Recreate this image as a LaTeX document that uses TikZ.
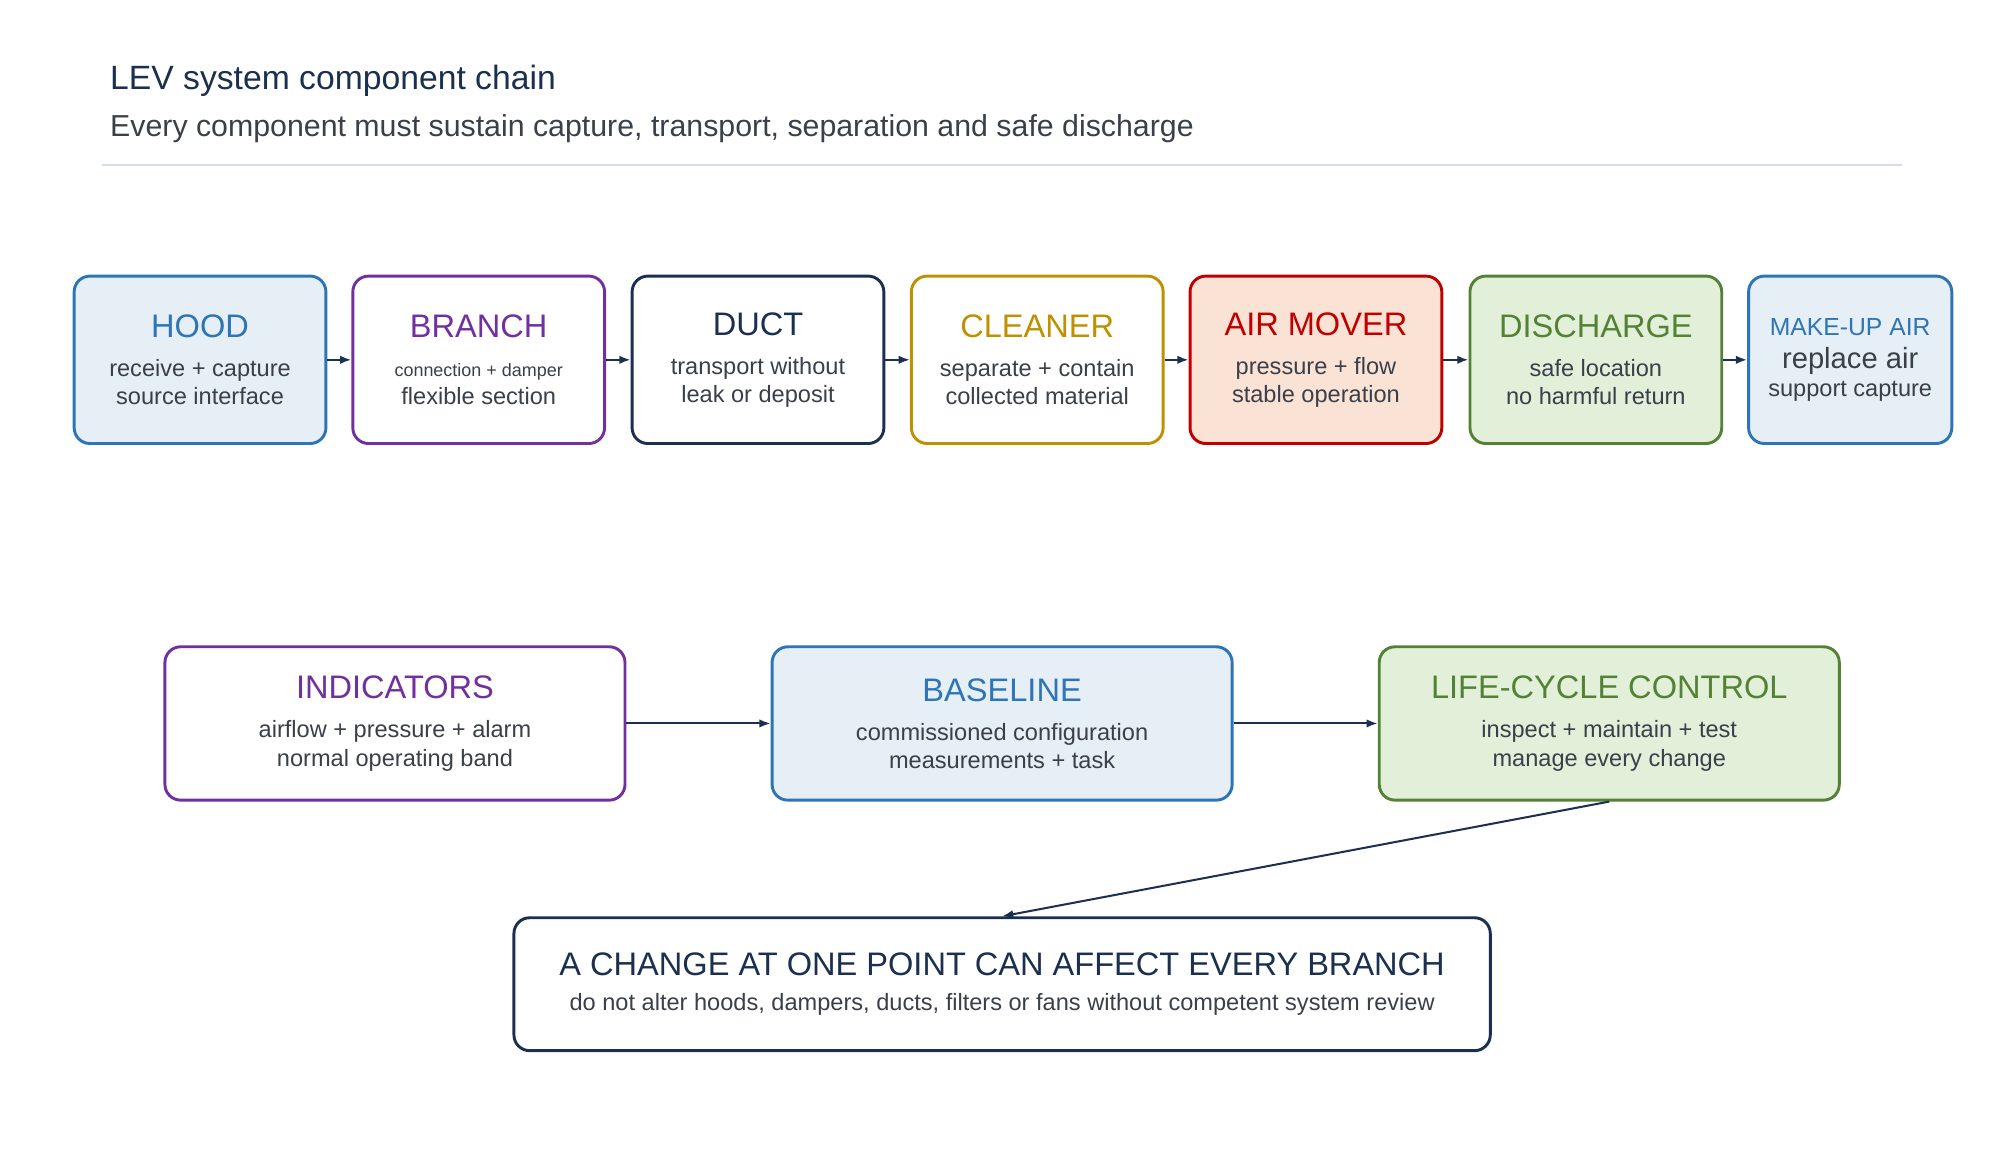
\documentclass[tikz,border=0pt]{standalone}
\usepackage{fontspec}
\setmainfont{Liberation Sans}
\usetikzlibrary{arrows.meta, positioning}
\definecolor{navy}{HTML}{1B2F50}
\definecolor{hblue}{HTML}{2E75B6}
\definecolor{hbluefill}{HTML}{E6EEF6}
\definecolor{hpurple}{HTML}{7030A0}
\definecolor{hgold}{HTML}{BF9000}
\definecolor{hred}{HTML}{C00000}
\definecolor{hredfill}{HTML}{FAE3D5}
\definecolor{hgreen}{HTML}{548235}
\definecolor{hgreenfill}{HTML}{E2EFD9}
\definecolor{bodytext}{HTML}{3A3F4A}
\definecolor{rulecol}{HTML}{D4DCF2}

\begin{document}
\begin{tikzpicture}[x=0.02cm, y=-0.02cm]
    % Stili
    \tikzset{
        comp/.style={
            rectangle,
            draw=#1,
            line width=1.3pt,
            rounded corners=7pt,
            minimum width=3.94cm,
            minimum height=2.62cm,
            align=center,
            font=\fontsize{10.5}{12.5}\selectfont\color{bodytext}
        },
        stage/.style={comp=#1, minimum width=7.2cm, minimum height=2.4cm},
        link/.style={-{Latex[length=5pt]}, line width=0.9pt, draw=navy}
    }
    \useasboundingbox (0,0) rectangle (1560,908);

    % Titolo
    \node[anchor=west, font=\fontsize{15}{17}\selectfont, text=navy] (title) at (80,63) {LEV system component chain};
    \node[anchor=west, font=\fontsize{13.5}{16}\selectfont, text=bodytext] (subtitle) at (80,101) {Every component must sustain capture, transport, separation and safe discharge};
    \draw[rulecol, line width=0.8pt] (80,129) -- (1488,129);

    % Catena dei componenti
    \node[comp=hblue, fill=hbluefill] at (156.5,281.5) (hood) {\textcolor{hblue}{\fontsize{14.5}{16}\selectfont HOOD}\\[5pt] receive + capture\\ source interface};
    \node[comp=hpurple, fill=white] at (374.5,281.5) (branch) {\textcolor{hpurple}{\fontsize{14.5}{16}\selectfont BRANCH}\\[5pt] {\fontsize{8}{10}\selectfont connection + damper}\\ flexible section};
    \node[comp=navy, fill=white] at (593,281.5) (duct) {\textcolor{navy}{\fontsize{14.5}{16}\selectfont DUCT}\\[5pt] transport without\\ leak or deposit};
    \node[comp=hgold, fill=white] at (811.5,281.5) (cleaner) {\textcolor{hgold}{\fontsize{14.5}{16}\selectfont CLEANER}\\[5pt] separate + contain\\ collected material};
    \node[comp=hred, fill=hredfill] at (1029.5,281.5) (mover) {\textcolor{hred}{\fontsize{14.5}{16}\selectfont AIR MOVER}\\[5pt] pressure + flow\\ stable operation};
    \node[comp=hgreen, fill=hgreenfill] at (1248.5,281.5) (discharge) {\textcolor{hgreen}{\fontsize{14.5}{16}\selectfont DISCHARGE}\\[5pt] safe location\\ no harmful return};
    \node[comp=hblue, fill=hbluefill, minimum width=3.18cm] at (1447.5,281.5) (makeup) {\textcolor{hblue}{\fontsize{11}{13}\selectfont MAKE-UP AIR}\\[2pt] {\fontsize{13}{15}\selectfont replace air}\\ support capture};

    \draw[link] (hood) -- (branch);
    \draw[link] (branch) -- (duct);
    \draw[link] (duct) -- (cleaner);
    \draw[link] (cleaner) -- (mover);
    \draw[link] (mover) -- (discharge);
    \draw[link] (discharge) -- (makeup);

    % Controllo nel tempo
    \node[stage=hpurple, fill=white] at (309,566) (indicators) {\textcolor{hpurple}{\fontsize{14.5}{16}\selectfont INDICATORS}\\[5pt] airflow + pressure + alarm\\ normal operating band};
    \node[stage=hblue, fill=hbluefill] at (784,566) (baseline) {\textcolor{hblue}{\fontsize{14.5}{16}\selectfont BASELINE}\\[5pt] commissioned configuration\\ measurements + task};
    \node[stage=hgreen, fill=hgreenfill] at (1259,566) (lifecycle) {\textcolor{hgreen}{\fontsize{14.5}{16}\selectfont LIFE-CYCLE CONTROL}\\[5pt] inspect + maintain + test\\ manage every change};

    \draw[link] (indicators) -- (baseline);
    \draw[link] (baseline) -- (lifecycle);

    % Avvertenza finale
    \node[comp=navy, fill=white, minimum width=15.28cm, minimum height=2.08cm] at (784,770) (warning) {\textcolor{navy}{\fontsize{14.5}{16}\selectfont A CHANGE AT ONE POINT CAN AFFECT EVERY BRANCH}\\[3pt] do not alter hoods, dampers, ducts, filters or fans without competent system review};

    \draw[link] (lifecycle.south) -- (warning.north);

\end{tikzpicture}
\end{document}
